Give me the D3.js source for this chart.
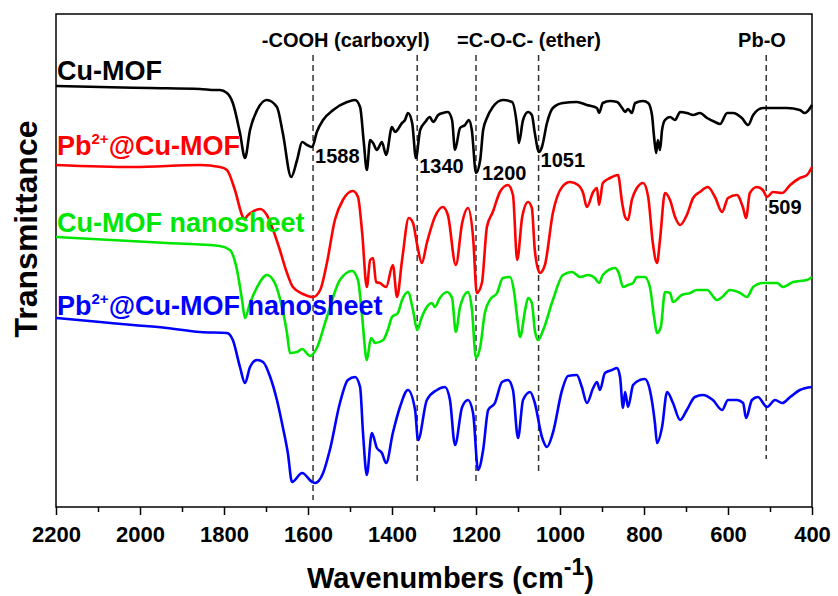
<html>
    <head>
        <title>FTIR spectra</title>
        <script src="https://cdn.jsdelivr.net/npm/d3@7"></script>
        <style>
            body{ margin:0; background:#fff; }
            text{
            font-family:"Liberation Sans", Arial, sans-serif;
            font-weight:bold;
            }
        </style>
    </head>
    <body>
        <div id="chart"></div>
    </body>
    <script>
        // spectra as [wavenumber (cm-1), transmittance (a.u., offset)]
        var cuMOF = [[2200,421],[2095,420],[1976,419],[1857,418],[1821,417],[1810,417],[1793,414],[1779,404],[1762,374],[1750,349],[1738,377],[1721,397],[1698,407],[1674,400],[1660,374],[1640,330],[1626,347],[1614,365],[1602,362],[1590,360],[1579,375],[1564,387],[1540,397],[1507,405],[1488,407],[1476,400],[1467,364],[1460,337],[1452,367],[1445,364],[1436,357],[1424,365],[1414,352],[1400,380],[1393,375],[1376,384],[1369,387],[1362,394],[1352,384],[1343,349],[1333,377],[1321,385],[1310,390],[1302,385],[1290,392],[1279,394],[1267,395],[1257,387],[1250,357],[1238,379],[1226,382],[1217,387],[1210,377],[1200,334],[1190,347],[1183,377],[1174,389],[1160,400],[1136,407],[1114,405],[1102,380],[1098,364],[1088,387],[1076,395],[1067,392],[1060,374],[1050,355],[1043,360],[1031,384],[1017,399],[993,404],[960,405],[936,402],[912,399],[907,394],[898,404],[881,406],[864,405],[852,399],[845,395],[838,398],[829,394],[821,404],[802,406],[790,404],[781,392],[776,370],[771,354],[767,367],[762,357],[757,377],[750,387],[738,390],[726,387],[714,395],[698,394],[683,392],[667,394],[650,389],[631,385],[619,383],[602,394],[588,394],[567,389],[552,382],[540,392],[517,399],[493,399],[460,399],[429,397],[417,394],[400,402]];

        var pbCuMOF = [[2200,342],[2017,340],[1857,342],[1810,340],[1793,337],[1774,317],[1755,290],[1750,288],[1745,291],[1733,295],[1714,298],[1698,292],[1683,277],[1667,257],[1650,234],[1636,220],[1612,213],[1588,210],[1571,217],[1555,244],[1536,287],[1517,307],[1493,316],[1481,310],[1471,274],[1460,220],[1452,247],[1445,249],[1438,225],[1429,224],[1414,220],[1398,242],[1388,210],[1376,247],[1360,289],[1350,284],[1340,262],[1329,244],[1317,264],[1298,290],[1279,300],[1267,292],[1248,242],[1233,284],[1219,299],[1207,270],[1198,214],[1186,224],[1174,280],[1160,295],[1143,315],[1124,322],[1112,312],[1102,247],[1090,290],[1076,305],[1067,299],[1060,257],[1048,234],[1036,242],[1017,294],[995,320],[976,325],[957,322],[945,314],[936,300],[921,315],[912,319],[907,302],[898,324],[881,329],[862,332],[852,304],[845,290],[838,287],[829,307],[817,319],[802,324],[790,310],[779,264],[769,244],[762,267],[750,314],[738,307],[726,290],[714,282],[698,292],[683,309],[667,315],[648,320],[631,310],[614,295],[600,309],[579,312],[564,299],[557,289],[548,314],[531,320],[517,317],[507,310],[493,315],[471,314],[452,322],[429,329],[412,332],[400,340]];

        var cuMOFSheet = [[2200,270],[1936,264],[1810,261],[1786,257],[1769,237],[1757,207],[1750,189],[1738,204],[1721,220],[1698,232],[1679,224],[1662,200],[1650,174],[1643,154],[1626,155],[1614,158],[1595,151],[1579,159],[1555,190],[1524,227],[1495,236],[1481,227],[1471,190],[1460,147],[1450,169],[1440,164],[1421,167],[1410,177],[1400,190],[1386,194],[1376,207],[1362,215],[1350,197],[1340,177],[1329,190],[1317,200],[1305,204],[1298,200],[1286,209],[1269,215],[1257,209],[1248,175],[1238,200],[1219,215],[1210,199],[1200,149],[1190,160],[1179,194],[1167,207],[1150,214],[1136,229],[1119,230],[1110,217],[1102,190],[1095,170],[1083,197],[1076,209],[1067,204],[1060,177],[1052,167],[1040,177],[1017,207],[993,232],[971,235],[952,230],[933,232],[917,229],[907,224],[898,232],[869,239],[860,234],[850,220],[838,222],[826,224],[817,230],[798,230],[786,220],[776,190],[769,174],[760,180],[750,215],[738,214],[731,205],[710,212],[690,214],[674,217],[650,217],[626,207],[614,210],[595,217],[571,214],[555,210],[540,220],[517,224],[483,224],[469,220],[445,225],[412,227],[400,230]];

        var pbCuMOFSheet = [[2200,189],[2095,185],[2017,182],[1936,179],[1857,175],[1793,174],[1779,167],[1762,140],[1750,124],[1738,140],[1721,147],[1707,145],[1690,130],[1674,107],[1660,80],[1648,54],[1638,25],[1614,34],[1590,25],[1583,24],[1564,34],[1548,57],[1524,104],[1505,127],[1488,130],[1476,120],[1469,74],[1460,32],[1448,74],[1436,59],[1424,54],[1414,44],[1398,74],[1381,100],[1362,117],[1345,97],[1338,67],[1317,107],[1293,117],[1274,120],[1262,107],[1250,62],[1233,100],[1219,107],[1207,94],[1195,37],[1183,57],[1171,97],[1155,104],[1138,125],[1124,127],[1112,117],[1100,69],[1088,107],[1071,115],[1060,104],[1043,70],[1031,60],[1017,74],[995,117],[981,131],[960,132],[948,120],[936,104],[921,119],[912,125],[905,117],[893,134],[876,137],[864,139],[857,130],[850,99],[845,115],[838,100],[826,122],[810,127],[798,128],[786,117],[774,84],[769,64],[757,80],[745,115],[731,104],[714,87],[698,97],[679,110],[660,112],[636,107],[614,97],[600,107],[579,107],[564,104],[557,89],[543,107],[529,110],[507,100],[488,107],[471,104],[452,110],[429,117],[400,120]];

        var seriesNames = ["Cu-MOF", "Pb|2+|@Cu-MOF", "Cu-MOF nanosheet", "Pb|2+|@Cu-MOF nanosheet"];
        var seriesColors = ["#000000", "#ff0000", "#00e600", "#0000ff"];
        var seriesLabelT = [427, 352, 275, 192];

        // marked bands
        var peaks = [1588, 1340, 1200, 1051, 509];
        var peakLabels = ["1588", "1340", "1200", "1051", "509"];
        var peakLabelT = [344, 334, 327, 340, 293];
        var peakLineEnd = [7, 25, 25, 34, 48];
        var groupLabels = ["-COOH (carboxyl)", "=C-O-C- (ether)", "Pb-O"];
        var groupLabelWn = [1710, 1245, 576];

        var xTicks = [2200, 2000, 1800, 1600, 1400, 1200, 1000, 800, 600, 400];

        var margin = { top: 14, right: 26, bottom: 89, left: 56 },
            width = 838 - margin.left - margin.right,
            height = 596 - margin.top - margin.bottom;

        var svg = d3.select("#chart").append("svg")
            .attr("width", 838)
            .attr("height", 596)
          .append("g")
            .attr("transform", "translate(" + margin.left + "," + margin.top + ")");

        var x = d3.scaleLinear().domain([2200, 400]).range([0, width]);
        var y = d3.scaleLinear().domain([0, 493]).range([height, 0]);

        //x axis: major + minor ticks, pointing out
        svg.append("g")
            .attr("transform", "translate(0," + height + ")")
            .call(d3.axisBottom(x).tickValues(d3.range(2100, 400, -200)).tickSize(5).tickFormat(""))
            .call(g => g.select(".domain").remove())
            .selectAll("line").attr("stroke-width", 1.5);

        var xAxis = svg.append("g")
            .attr("transform", "translate(0," + height + ")")
            .call(d3.axisBottom(x).tickValues(xTicks).tickSize(8).tickPadding(6).tickFormat(d3.format("d")));
        xAxis.select(".domain").remove();
        xAxis.selectAll("line").attr("stroke-width", 1.5);
        xAxis.selectAll("text")
            .style("font-size", "22px")
            .style("font-family", "'Liberation Sans', Arial, sans-serif")
            .style("font-weight", "bold")
            .attr("dy", "0.95em");

        //frame
        svg.append("rect")
            .attr("width", width)
            .attr("height", height)
            .attr("fill", "none")
            .attr("stroke", "#000")
            .attr("stroke-width", 1.5);

        //dashed band lines
        svg.selectAll(".peakLine")
            .data(peaks)
            .enter().append("line")
              .attr("class", "peakLine")
              .attr("x1", d => x(d)).attr("x2", d => x(d))
              .attr("y1", y(452))
              .attr("y2", (d, i) => y(peakLineEnd[i]))
              .attr("stroke", "#333")
              .attr("stroke-width", 1.5)
              .attr("stroke-dasharray", "6,4");

        //spectra
        var line = d3.line()
            .x(d => x(d[0]))
            .y(d => y(d[1]))
            .curve(d3.curveMonotoneX);

        [cuMOF, pbCuMOF, cuMOFSheet, pbCuMOFSheet].forEach(function(s, i){
            svg.append("path")
                .datum(s)
                .attr("fill", "none")
                .attr("stroke", seriesColors[i])
                .attr("stroke-width", 2.6)
                .attr("stroke-linejoin", "round")
                .attr("d", line);
        });

        //series names, "|2+|" marks the superscript
        seriesNames.forEach(function(name, i){
            var t = svg.append("text")
                .attr("x", 1)
                .attr("y", y(seriesLabelT[i]))
                .attr("fill", seriesColors[i])
                .style("font-size", "27px");
            name.split("|").forEach(function(part, j){
                if (j % 2 == 1) {
                    t.append("tspan").text(part).style("font-size", "15px").attr("dy", -11);
                } else {
                    t.append("tspan").text(part).attr("dy", j == 0 ? 0 : 11);
                }
            });
        });

        //peak numbers
        svg.selectAll(".peakLabel")
            .data(peaks)
            .enter().append("text")
              .attr("x", (d, i) => x(d) + (i == 2 ? 6 : 2))
              .attr("y", (d, i) => y(peakLabelT[i]))
              .style("font-size", "20px")
              .text((d, i) => peakLabels[i]);

        //group names
        svg.selectAll(".groupLabel")
            .data(groupLabels)
            .enter().append("text")
              .attr("x", (d, i) => x(groupLabelWn[i]))
              .attr("y", y(460))
              .style("font-size", "20px")
              .text(d => d);

        //axis titles
        var xt = svg.append("text")
            .attr("x", 251)
            .attr("y", 574)
            .style("font-size", "29px");
        xt.append("tspan").text("Wavenumbers (cm");
        xt.append("tspan").text("-1").style("font-size", "23px").attr("dy", -13);
        xt.append("tspan").text(")").attr("dy", 13);

        svg.append("text")
            .attr("transform", "translate(-19," + 215 + ") rotate(-90)")
            .style("text-anchor", "middle")
            .style("font-size", "32px")
            .text("Transmittance");
    </script>
</html>
